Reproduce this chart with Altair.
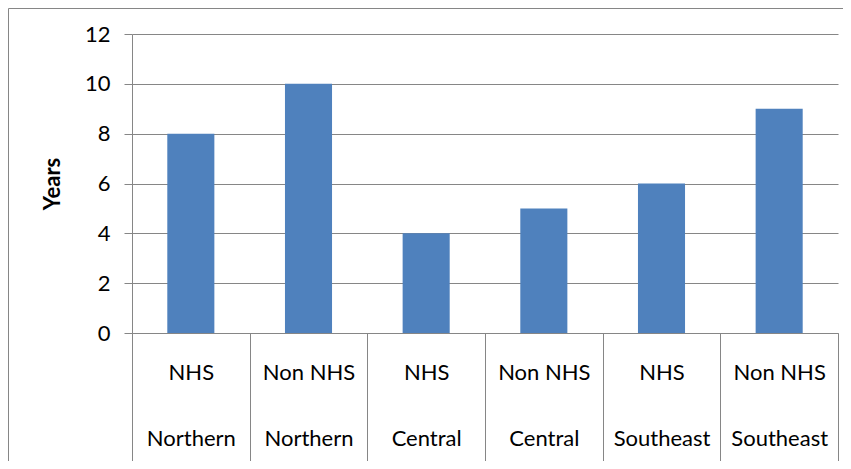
import altair as alt
import pandas as pd

sectors = ["NHS", "Non NHS", "NHS", "Non NHS", "NHS", "Non NHS"]
regions = ["Northern", "Northern", "Central", "Central", "Southeast", "Southeast"]
years = [8, 10, 4, 5, 6, 9]
y_ticks = [0, 2, 4, 6, 8, 10, 12]

df = pd.DataFrame({"sector": sectors, "region": regions, "years": years})
df["category"] = df["sector"] + "|" + df["region"]
order = list(df["category"])

FONT = "Lato"
GRAY = "#868686"

bars = alt.Chart(df).mark_bar(color="#4F81BD", width=alt.RelativeBandSize(0.4)).encode(
    x=alt.X(
        "category:N", sort=order,
        scale=alt.Scale(paddingInner=0, paddingOuter=0),
        axis=alt.Axis(
            title=None, labelExpr="split(datum.label, '|')", labelAngle=0,
            labelFont=FONT, labelFontSize=22, labelColor="black",
            labelLineHeight=66, labelBaseline="top", labelPadding=-101,
            labelOverlap=False, tickBand="extent", tickSize=130,
            tickColor=GRAY, tickWidth=1, domainColor=GRAY, domainWidth=1,
            grid=False,
        ),
    ),
    y=alt.Y(
        "years:Q",
        scale=alt.Scale(domain=[0, 12], nice=False),
        axis=alt.Axis(
            title="Years", values=y_ticks, labelFont=FONT, labelFontSize=22,
            labelColor="black", labelPadding=14, tickSize=8, tickColor=GRAY,
            domainColor=GRAY, gridColor=GRAY, gridWidth=1, gridOpacity=1,
            titleFont=FONT, titleFontSize=22, titleFontWeight="bold",
            titleColor="black", titlePadding=20,
        ),
    ),
)

border = alt.Chart(pd.DataFrame({"k": [0]})).mark_rect(
    fill="transparent", stroke=GRAY, strokeWidth=1
).encode(
    x=alt.value(-123.5), x2=alt.value(900), y=alt.value(-25.5), y2=alt.value(700)
)

chart = alt.layer(border, bars).properties(
    width=706, height=299,
    autosize=alt.AutoSizeParams(type="none"),
    padding={"left": 124, "top": 26, "right": 5, "bottom": 128},
    background="white",
).configure_view(stroke="transparent")

chart.save("out.html", embed_options={"renderer": "svg", "actions": False})
